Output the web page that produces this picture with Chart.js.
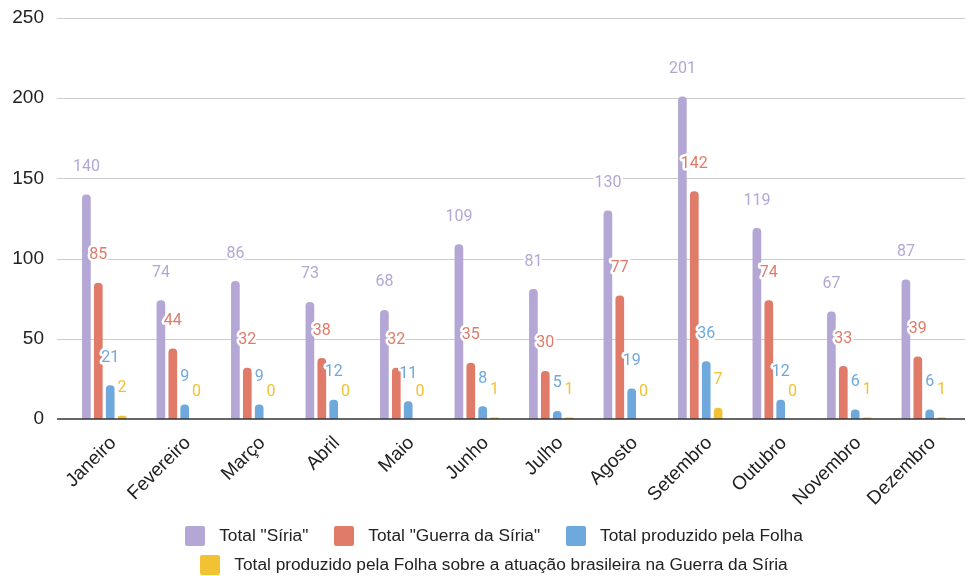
<!DOCTYPE html>
<html>
<head>
<meta charset="utf-8">
<script src="https://cdn.jsdelivr.net/npm/chart.js@4"></script>
<style>
  body { margin: 0; background: #fff; }
  #wrap { position: relative; width: 966px; height: 576px; }
  #legend { position: absolute; left: 18px; width: 952px; top: 521px;
            font: 17.3px "Liberation Sans", Arial, sans-serif; color: #222; }
  .row { display: flex; justify-content: center; align-items: center; height: 29px; }
  .item { display: flex; align-items: center; margin: 0 13px; white-space: nowrap; }
  .box { width: 20px; height: 20px; border-radius: 2px; margin-right: 14px; }
</style>
</head>
<body>
<div id="wrap">
  <canvas id="chart" width="966" height="576"></canvas>
  <div id="legend"></div>
</div>
<script>
// Dados
const months = ["Janeiro", "Fevereiro", "Março", "Abril", "Maio", "Junho",
                "Julho", "Agosto", "Setembro", "Outubro", "Novembro", "Dezembro"];
const totalSiria  = [140, 74, 86, 73, 68, 109, 81, 130, 201, 119, 67, 87];
const totalGuerra = [85, 44, 32, 38, 32, 35, 30, 77, 142, 74, 33, 39];
const totalFolha  = [21, 9, 9, 12, 11, 8, 5, 19, 36, 12, 6, 6];
const totalBrasil = [2, 0, 0, 0, 0, 1, 1, 0, 7, 0, 1, 1];
const seriesNames = ['Total "Síria"', 'Total "Guerra da Síria"', 'Total produzido pela Folha',
                     'Total produzido pela Folha sobre a atuação brasileira na Guerra da Síria'];
const colors = ["#b4a7d6", "#e07b69", "#6fa8dc", "#f1c232"];
const yTicks = [0, 50, 100, 150, 200, 250];

const axisFont = '"Liberation Sans", Arial, sans-serif';

// linhas de grade horizontais (passam um pouco além da área dos dados)
const gridLines = {
    id: "gridLines",
    beforeDatasetsDraw(chart) {
        let ctx = chart.ctx, y = chart.scales.y;
        ctx.save();
        ctx.strokeStyle = "#cccccc";
        ctx.lineWidth = 1;
        yTicks.forEach(v => {
            if (v === 0) return;
            let py = Math.round(y.getPixelForValue(v)) + 0.5;
            ctx.beginPath(); ctx.moveTo(57, py); ctx.lineTo(965, py); ctx.stroke();
        });
        ctx.restore();
    },
    afterDatasetsDraw(chart) {
        let ctx = chart.ctx, y = chart.scales.y;
        let py = y.getPixelForValue(0);
        ctx.save();
        ctx.strokeStyle = "#333333";
        ctx.lineWidth = 1.6;
        ctx.beginPath(); ctx.moveTo(57, py); ctx.lineTo(965, py); ctx.stroke();
        ctx.restore();
    }
};

// rótulos de valor acima das barras, com contorno branco
const valueLabels = {
    id: "valueLabels",
    afterDatasetsDraw(chart) {
        let ctx = chart.ctx;
        ctx.save();
        ctx.font = "16px Roboto";
        ctx.textAlign = "center";
        ctx.textBaseline = "middle";
        ctx.lineJoin = "round";
        ctx.lineWidth = 5;
        ctx.strokeStyle = "#ffffff";
        chart.data.datasets.forEach((ds, i) => {
            chart.getDatasetMeta(i).data.forEach((bar, j) => {
                let txt = String(ds.data[j]);
                let ty = bar.y - 27.5;
                ctx.strokeText(txt, bar.x, ty);
                ctx.fillStyle = ds.backgroundColor;
                ctx.fillText(txt, bar.x, ty);
            });
        });
        ctx.restore();
    }
};

const allSeries = [totalSiria, totalGuerra, totalFolha, totalBrasil];

new Chart(document.getElementById("chart"), {
    type: "bar",
    data: {
        labels: months,
        datasets: allSeries.map((d, i) => ({
            label: seriesNames[i],
            data: d,
            backgroundColor: colors[i],
            borderRadius: { topLeft: 4, topRight: 4, bottomLeft: 0, bottomRight: 0 },
            borderSkipped: "start",
            categoryPercentage: 0.639,
            barPercentage: 0.73
        }))
    },
    options: {
        responsive: false,
        animation: false,
        layout: { padding: { left: 12, right: 5, top: 18, bottom: 0 } },
        plugins: { legend: { display: false }, tooltip: { enabled: false } },
        scales: {
            x: {
                grid: { display: false },
                border: { display: false },
                afterFit: s => { s.height = 157; },
                ticks: {
                    maxRotation: 45, minRotation: 45,
                    color: "#222", padding: 5, labelOffset: 9,
                    font: { family: axisFont, size: 19 }
                }
            },
            y: {
                min: 0, max: 250,
                grid: { display: false },
                border: { display: false },
                afterFit: s => { s.width = 55; s.paddingTop = 0; s.paddingBottom = 0; },
                ticks: {
                    stepSize: 50, padding: 15, color: "#222",
                    font: { family: axisFont, size: 19 }
                }
            }
        }
    },
    plugins: [gridLines, valueLabels]
});

// legenda em HTML (duas linhas, como no original)
let legend = document.getElementById("legend");
[[0, 1, 2], [3]].forEach(idx => {
    let row = document.createElement("div");
    row.className = "row";
    idx.forEach(i => {
        let item = document.createElement("div");
        item.className = "item";
        item.innerHTML = `<span class="box" style="background:${colors[i]}"></span><span>${seriesNames[i]}</span>`;
        row.appendChild(item);
    });
    legend.appendChild(row);
});
</script>
</body>
</html>
